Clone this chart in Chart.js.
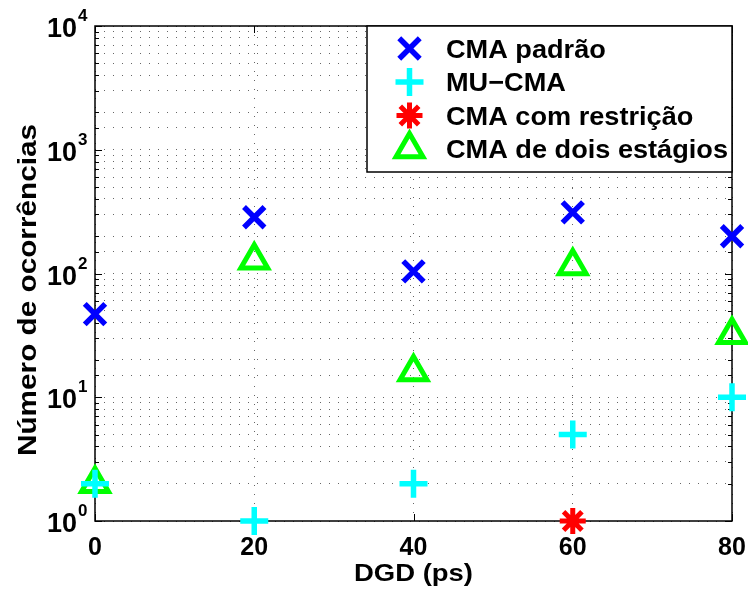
<!DOCTYPE html>
<html>
<head>
<meta charset="utf-8">
<script src="https://cdn.jsdelivr.net/npm/chart.js@4/dist/chart.umd.min.js"></script>
<style>
  html, body { margin: 0; padding: 0; background: #fff; }
  #wrap { width: 748px; height: 592px; }
</style>
</head>
<body>
<div id="wrap"><canvas id="chart" width="748" height="592"></canvas></div>
<script>
var dgd = [0, 20, 40, 60, 80];
var cmaPadrao = [47, 285, 104, 312, 200];
var muCma = [2, 1, 2, 5, 10];
var restricaoX = [60];
var restricaoY = [1];
var doisEstagios = [2, 128, 16, 115, 32];
var xTicks = [0, 20, 40, 60, 80];
var yPowers = [0, 1, 2, 3, 4];

var seriesNames = ['CMA padrão', 'MU\u2212CMA', 'CMA com restrição', 'CMA de dois estágios'];

var FONT = '"Liberation Sans", Arial, sans-serif';

function toPoints(xs, ys) {
    return xs.map(function (x, i) { return { x: x, y: ys[i] }; });
}

// draw text stretched horizontally to fit a given width
function stretchText(ctx, txt, x, y, targetW, align) {
    var w = ctx.measureText(txt).width;
    var sx = targetW ? targetW / w : 1;
    ctx.save();
    ctx.translate(x, y);
    ctx.scale(sx, 1);
    ctx.textAlign = align || 'left';
    ctx.fillText(txt, 0, 0);
    ctx.restore();
}

var matlabPlugin = {
    id: 'matlab',
    beforeDatasetsDraw: function (chart) {
        var ctx = chart.ctx, a = chart.chartArea;
        var xs = chart.scales.x, ys = chart.scales.y;
        ctx.save();
        ctx.strokeStyle = '#000';
        ctx.lineWidth = 1;
        // inward tick marks
        ys.ticks.forEach(function (t) {
            var y = Math.round(ys.getPixelForValue(t.value)) + 0.5;
            var len = t.major ? 7 : 4;
            ctx.beginPath();
            ctx.moveTo(a.left, y); ctx.lineTo(a.left + len, y);
            ctx.moveTo(a.right, y); ctx.lineTo(a.right - len, y);
            ctx.stroke();
        });
        xTicks.forEach(function (v) {
            var x = Math.round(xs.getPixelForValue(v)) + 0.5;
            ctx.beginPath();
            ctx.moveTo(x, a.bottom); ctx.lineTo(x, a.bottom - 7);
            ctx.moveTo(x, a.top); ctx.lineTo(x, a.top + 7);
            ctx.stroke();
        });
        ctx.lineWidth = 1.5;
        ctx.strokeRect(a.left, a.top, a.right - a.left, a.bottom - a.top);
        ctx.restore();
    },
    afterDraw: function (chart) {
        var ctx = chart.ctx, a = chart.chartArea;
        var ys = chart.scales.y;
        ctx.save();
        ctx.fillStyle = '#000';
        ctx.textBaseline = 'alphabetic';

        // y tick labels 10^n
        yPowers.forEach(function (p) {
            var y = ys.getPixelForValue(Math.pow(10, p));
            ctx.font = 'bold 27px ' + FONT;
            ctx.textAlign = 'right';
            stretchText(ctx, '10', 77, y + 11, 30, 'right');
            ctx.font = 'bold 17px ' + FONT;
            ctx.textAlign = 'left';
            ctx.fillText(String(p), 78, y - 5);
        });

        // axis titles
        ctx.font = 'bold 24px ' + FONT;
        stretchText(ctx, 'DGD (ps)', (a.left + a.right) / 2, 581, 119, 'center');
        ctx.save();
        ctx.translate(36, 290);
        ctx.rotate(-Math.PI / 2);
        ctx.font = 'bold 26px ' + FONT;
        stretchText(ctx, 'Número de ocorrências', 0, 0, 332, 'center');
        ctx.restore();

        // legend box
        var lx = 367, ly = a.top, lw = a.right - 367, lh = 146;
        ctx.fillStyle = '#fff';
        ctx.fillRect(lx, ly, lw, lh);
        ctx.strokeStyle = '#000';
        ctx.lineWidth = 1.5;
        ctx.strokeRect(lx, ly, lw, lh);

        ctx.font = 'bold 26px ' + FONT;
        var sx = 282 / ctx.measureText(seriesNames[3]).width;
        chart.data.datasets.forEach(function (ds, i) {
            var cy = 48.5 + i * 33.5;
            ctx.strokeStyle = ds.borderColor;
            ctx.fillStyle = 'rgba(0,0,0,0)';
            ctx.lineWidth = ds.borderWidth;
            Chart.helpers.drawPoint(ctx, {
                pointStyle: ds.pointStyle,
                radius: ds.pointRadius,
                rotation: 0,
                borderWidth: ds.borderWidth
            }, 409.5, cy);
            ctx.fillStyle = '#000';
            var w = ctx.measureText(ds.label).width;
            stretchText(ctx, ds.label, 446, cy + 9, w * sx, 'left');
        });
        ctx.restore();
    }
};

new Chart('chart', {
    type: 'scatter',
    data: {
        datasets: [{
            label: seriesNames[0],
            data: toPoints(dgd, cmaPadrao),
            pointStyle: 'crossRot',
            pointRadius: 14.5,
            borderWidth: 5.5,
            borderColor: '#0000ff',
            backgroundColor: '#0000ff',
            clip: false
        }, {
            label: seriesNames[1],
            data: toPoints(dgd, muCma),
            pointStyle: 'cross',
            pointRadius: 14,
            borderWidth: 5.5,
            borderColor: '#00ffff',
            backgroundColor: '#00ffff',
            clip: false
        }, {
            label: seriesNames[2],
            data: toPoints(restricaoX, restricaoY),
            pointStyle: 'star',
            pointRadius: 13,
            borderWidth: 5,
            borderColor: '#ff0000',
            backgroundColor: '#ff0000',
            clip: false
        }, {
            label: seriesNames[3],
            data: toPoints(dgd, doisEstagios),
            pointStyle: 'triangle',
            pointRadius: 15.5,
            borderWidth: 5,
            borderColor: '#00ff00',
            backgroundColor: 'rgba(0,0,0,0)',
            clip: false
        }]
    },
    options: {
        responsive: false,
        animation: false,
        events: [],
        layout: { autoPadding: false, padding: { left: 0, top: 26, right: 16, bottom: 0 } },
        plugins: {
            legend: { display: false },
            tooltip: { enabled: false }
        },
        scales: {
            x: {
                type: 'linear',
                min: 0,
                max: 80,
                afterBuildTicks: function (s) {
                    s.ticks = xTicks.map(function (v) { return { value: v }; });
                },
                afterFit: function (s) {
                    s.height = 71;
                    s.paddingLeft = 0;
                    s.paddingRight = 0;
                },
                grid: { color: '#666', lineWidth: 1, drawTicks: false },
                border: { display: false, dash: [1, 8] },
                ticks: {
                    color: '#000',
                    padding: 12,
                    maxRotation: 0,
                    font: { family: FONT, size: 25, weight: 'bold' }
                }
            },
            y: {
                type: 'logarithmic',
                min: 1,
                max: 10000,
                afterFit: function (s) {
                    s.width = 95;
                    s.paddingTop = 0;
                    s.paddingBottom = 0;
                },
                grid: { color: '#666', lineWidth: 1, drawTicks: false },
                border: { display: false, dash: [1, 8] },
                ticks: {
                    autoSkip: false,
                    callback: function () { return ''; }
                }
            }
        }
    },
    plugins: [matlabPlugin]
});
</script>
</body>
</html>
